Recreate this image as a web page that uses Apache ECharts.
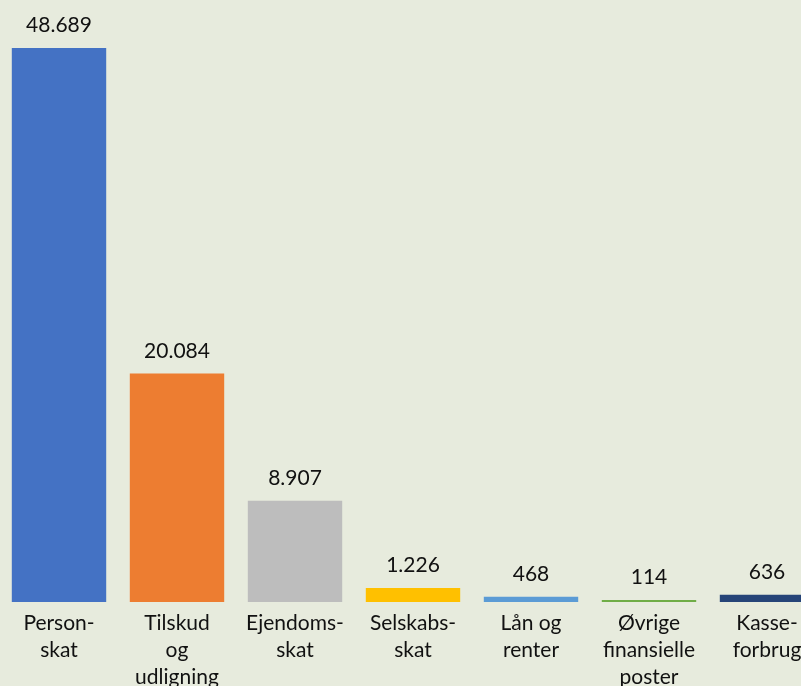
<!DOCTYPE html>
<html><head><meta charset="utf-8">
<script src="https://cdn.jsdelivr.net/npm/echarts@6/dist/echarts.min.js"></script>
<style>html,body{margin:0;padding:0;background:#E7EBDD;}#c{width:801px;height:686px;}</style>
</head><body><div id="c"></div>
<script>
const categories = ["Person-\nskat", "Tilskud\nog\nudligning", "Ejendoms-\nskat", "Selskabs-\nskat", "Lån og\nrenter", "Øvrige\nfinansielle\nposter", "Kasse-\nforbrug"];
const values = [48689, 20084, 8907, 1226, 468, 114, 636];
const colors = ["#4472C4", "#ED7D31", "#BDBDBD", "#FFC000", "#5B9BD5", "#70AD47", "#264478"];

function fmt(v){ return String(v).replace(/\B(?=(\d{3})+(?!\d))/g, "."); }

const chart = echarts.init(document.getElementById('c'));
chart.setOption({
  backgroundColor: '#E7EBDD',
  animation: false,
  grid: { left: 0, top: 48, right: -25, bottom: 84, containLabel: false, outerBoundsMode: 'none' },
  xAxis: {
    type: 'category', data: categories,
    axisLine: { show: false }, axisTick: { show: false },
    axisLabel: { interval: 0, color: '#111', fontFamily: 'Lato', fontSize: 21, lineHeight: 27, margin: 8 }
  },
  yAxis: { type: 'value', min: 0, max: 48689, show: false, splitLine: { show: false } },
  series: [{
    type: 'bar', barCategoryGap: '20%', barMinHeight: 2,
    data: values.map((v, i) => ({ value: v, itemStyle: { color: colors[i] } })),
    label: { show: true, position: 'top', distance: 12, color: '#111', fontFamily: 'Lato', fontSize: 21,
      formatter: p => fmt(p.value) }
  }]
});
</script></body></html>
